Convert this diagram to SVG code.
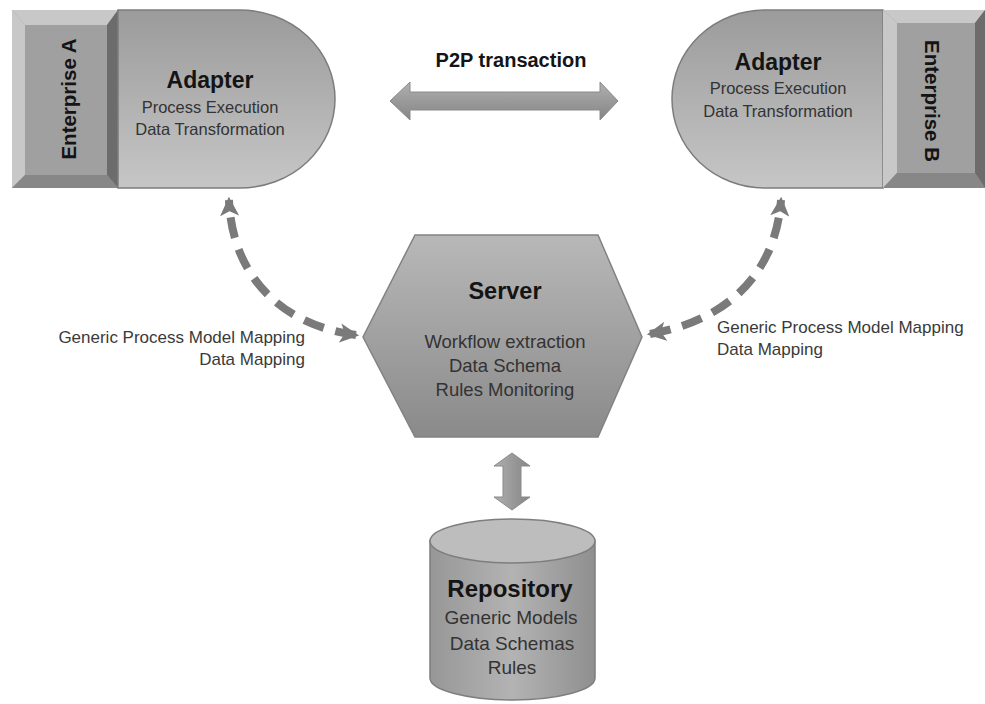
<svg xmlns="http://www.w3.org/2000/svg" width="985" height="704" viewBox="0 0 985 704">
<defs>
<linearGradient id="gAd" x1="0" y1="0" x2="0" y2="1"><stop offset="0" stop-color="#9b9b9b"/><stop offset="1" stop-color="#c6c6c6"/></linearGradient>
<linearGradient id="gHex" x1="0" y1="0" x2="0" y2="1"><stop offset="0" stop-color="#b8b8b8"/><stop offset="1" stop-color="#8a8a8a"/></linearGradient>
<linearGradient id="gCyl" x1="0" y1="0" x2="1" y2="0"><stop offset="0" stop-color="#979797"/><stop offset="0.5" stop-color="#b3b3b3"/><stop offset="1" stop-color="#8f8f8f"/></linearGradient>
<linearGradient id="gArrH" x1="0" y1="0" x2="0" y2="1"><stop offset="0" stop-color="#b0b0b0"/><stop offset="0.5" stop-color="#9a9a9a"/><stop offset="1" stop-color="#858585"/></linearGradient>
<linearGradient id="gArrV" x1="0" y1="0" x2="1" y2="0"><stop offset="0" stop-color="#b0b0b0"/><stop offset="0.5" stop-color="#9a9a9a"/><stop offset="1" stop-color="#858585"/></linearGradient>
<marker id="ah" viewBox="0 0 12 12" refX="10" refY="6" markerWidth="2.4" markerHeight="2.4" orient="auto-start-reverse" markerUnits="strokeWidth">
<path d="M0,0 L12,6 L0,12 L3,6 Z" fill="#7a7a7a"/>
</marker>
<style>
text{font-family:"Liberation Sans",Arial,sans-serif;}
.t{font-weight:bold;fill:#141414;text-anchor:middle;}
.s{fill:#333;text-anchor:middle;}
.lbl{fill:#3a3a3a;font-size:17px;}
.face{fill:#a0a0a0;}
.bl{fill:#c8c8c8;}
.bd{fill:#6c6c6c;}
.bm{fill:#878787;}
.dash{fill:none;stroke:#7a7a7a;stroke-width:8;stroke-dasharray:21 12;}
</style>
</defs>

<g id="enterpriseA">
<rect x="12" y="10" width="106" height="178" fill="#999"/>
<polygon class="bl" points="12,10 118,10 107,25 25,25"/>
<polygon class="bl" points="12,10 25,25 25,175 12,188"/>
<polygon class="bd" points="118,10 118,188 107,175 107,25"/>
<polygon class="bm" points="12,188 25,175 107,175 118,188"/>
<rect class="face" x="25" y="25" width="82" height="150"/>
<text class="t" font-size="20.5" transform="translate(68,99) rotate(-90)" dominant-baseline="central">Enterprise A</text>
</g>

<g id="adapterA">
<path d="M118,10 L240,10 A95,89 0 0 1 240,188 L118,188 Z" fill="url(#gAd)" stroke="#7c7c7c" stroke-width="1.5"/>
<text class="t" x="210" y="88" font-size="23">Adapter</text>
<text class="s" x="210" y="113" font-size="16.5">Process Execution</text>
<text class="s" x="210" y="135" font-size="16.5">Data Transformation</text>
</g>

<g id="adapterB">
<path d="M883,10 L765,10 A93,89 0 0 0 765,188 L883,188 Z" fill="url(#gAd)" stroke="#7c7c7c" stroke-width="1.5"/>
<text class="t" x="778" y="70" font-size="23">Adapter</text>
<text class="s" x="778" y="94" font-size="16.5">Process Execution</text>
<text class="s" x="778" y="117" font-size="16.5">Data Transformation</text>
</g>

<g id="enterpriseB">
<rect x="883" y="10" width="102" height="178" fill="#999"/>
<polygon class="bl" points="883,10 985,10 975,23 897,23"/>
<polygon class="bl" points="883,10 897,23 897,173 883,188"/>
<polygon class="bd" points="985,10 985,188 975,173 975,23"/>
<polygon class="bm" points="883,188 897,173 975,173 985,188"/>
<rect class="face" x="897" y="23" width="78" height="150"/>
<text class="t" font-size="20.5" transform="translate(932,101) rotate(90)" dominant-baseline="central">Enterprise B</text>
</g>

<g id="server">
<polygon points="415,235 598,235 642,337 598,437 415,437 363,337" fill="url(#gHex)" stroke="#828282" stroke-width="1.5"/>
<text class="t" x="505" y="299" font-size="23.5">Server</text>
<text class="s" x="505" y="348" font-size="18.5" fill="#262626">Workflow extraction</text>
<text class="s" x="505" y="372" font-size="18.5" fill="#262626">Data Schema</text>
<text class="s" x="505" y="396" font-size="18.5" fill="#262626">Rules Monitoring</text>
</g>

<g id="repository">
<path d="M430,541 L430,678 A82.5,22 0 0 0 595,678 L595,541 Z" fill="url(#gCyl)" stroke="#7e7e7e" stroke-width="1.5"/>
<ellipse cx="512.5" cy="541" rx="82.5" ry="22" fill="#bdbdbd" stroke="#7e7e7e" stroke-width="1.5"/>
<text class="t" x="510" y="597" font-size="24">Repository</text>
<text class="s" x="511" y="624" font-size="19" fill="#262626">Generic Models</text>
<text class="s" x="512" y="650" font-size="19" fill="#262626">Data Schemas</text>
<text class="s" x="512" y="674" font-size="19" fill="#262626">Rules</text>
</g>

<g id="connectors">
<text class="t" x="511" y="67" font-size="20">P2P transaction</text>
<polygon points="390,101 410,82 410,92 600,92 600,82 618,101 600,120 600,110 410,110 410,120" fill="url(#gArrH)" stroke="#8a8a8a" stroke-width="1"/>
<polygon points="512,453 530,466 521,466 521,497 530,497 512,510 494,497 503,497 503,466 494,466" fill="url(#gArrV)" stroke="#8a8a8a" stroke-width="1"/>
<path class="dash" d="M356,335 C280,325 232,275 229,200" marker-start="url(#ah)" marker-end="url(#ah)"/>
<path class="dash" d="M650,334 C720,322 775,280 781,200" marker-start="url(#ah)" marker-end="url(#ah)"/>
<text class="lbl" x="305" y="343" text-anchor="end">Generic Process Model Mapping</text>
<text class="lbl" x="305" y="365" text-anchor="end">Data Mapping</text>
<text class="lbl" x="717" y="333">Generic Process Model Mapping</text>
<text class="lbl" x="717" y="355">Data Mapping</text>
</g>
</svg>
